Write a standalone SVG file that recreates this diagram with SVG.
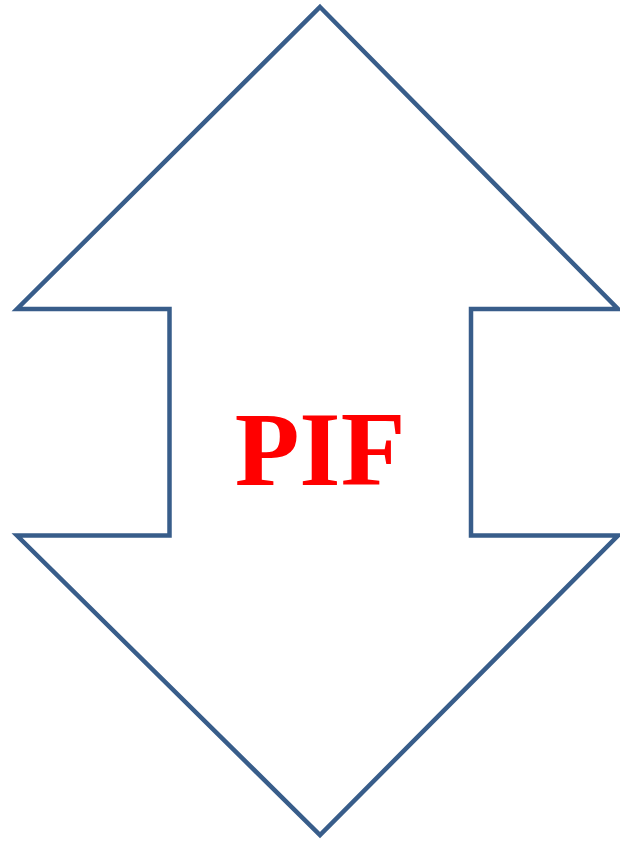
<svg xmlns="http://www.w3.org/2000/svg" width="620" height="842" viewBox="0 0 620 842">
<style>
.arrow{fill:#FFFFFF;stroke:#385D8A;stroke-width:4.5;stroke-linejoin:miter;stroke-miterlimit:10}
.lbl{font-family:"Liberation Serif","Times New Roman",serif;font-weight:bold;font-size:106px;fill:#FF0000}
</style>
<rect width="620" height="842" fill="#FFFFFF"/>
<g id="arrow-node">
<polygon class="arrow" points="320,7 618,309 471,309 471,535.5 618,535.5 320,835 17,535.5 169.5,535.5 169.5,309 17,309"/>
<text class="lbl" x="320" y="485" text-anchor="middle">PIF</text>
</g>
<g id="connectors"></g>
</svg>
